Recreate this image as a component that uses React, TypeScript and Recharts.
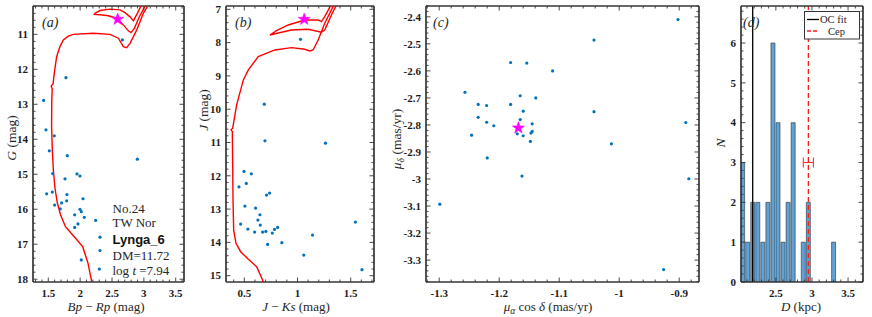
import React from 'react'
import { ComposedChart, Scatter, Bar, XAxis, YAxis, ReferenceLine, ErrorBar } from 'recharts'

const FONT = '"Liberation Serif", "Times New Roman", serif'
const AXIS = '#363636'
const BLUE = '#0072bd'
const H = 317

// --- (a) Gaia CMD: [Bp-Rp, G] ---
const gaiaMembers: [number, number][] = [
  [2.662, 11.16], [1.777, 12.24], [1.427, 12.89], [1.463, 13.73], [1.594, 13.9],
  [1.516, 14.33], [1.798, 14.47], [2.898, 14.57], [1.568, 14.98], [1.95, 14.99],
  [1.997, 15.05], [1.762, 15.13], [1.474, 15.56], [1.563, 15.51], [1.793, 15.58],
  [2.045, 15.7], [1.788, 15.76], [1.599, 15.88], [1.709, 15.82], [1.688, 15.99],
  [1.997, 16.0], [2.018, 16.07], [1.914, 16.16], [2.065, 16.23], [2.243, 16.32],
  [1.966, 16.42], [1.914, 16.52], [2.311, 16.8], [2.311, 17.18], [2.018, 17.45],
  [2.301, 17.71],
]
const gaiaCepheid: [number, number][] = [[2.589, 10.57]]
const gaiaIsochrone: [number, number][] = [
  [2.207, 18.3], [2.181, 18.07], [2.123, 17.54], [2.04, 17.07], [1.9, 16.77],
  [1.77, 16.5], [1.69, 16.15], [1.64, 15.8], [1.605, 15.4], [1.58, 14.9],
  [1.563, 14.3], [1.552, 13.64], [1.555, 12.88], [1.562, 12.56], [1.545, 12.48],
  [1.575, 12.42], [1.594, 12.11], [1.631, 11.64], [1.683, 11.35], [1.736, 11.16],
  [1.814, 11.05], [1.893, 11.0], [2.207, 10.97], [2.469, 11.0], [2.6, 11.11],
  [2.678, 11.35], [2.73, 11.38], [2.783, 11.26], [2.887, 10.88], [2.992, 10.4],
  [3.071, 10.16], [3.149, 9.92],
  [2.982, 9.97], [2.955, 10.19], [2.898, 10.4], [2.835, 10.61], [2.783, 10.5],
  [2.704, 10.38], [2.626, 10.3], [2.469, 10.28], [2.312, 10.32], [2.233, 10.4],
  [2.223, 10.43], [2.312, 10.44], [2.442, 10.47], [2.573, 10.54], [2.678, 10.73],
  [2.757, 10.9], [2.798, 10.95], [2.851, 10.83], [2.929, 10.5], [3.018, 10.19],
  [3.071, 9.97],
]

// --- (b) 2MASS CMD: [J-Ks, J] ---
const tmassMembers: [number, number][] = [
  [1.028, 7.9], [0.688, 9.85], [0.694, 10.95], [1.263, 11.02], [0.497, 11.87],
  [0.566, 11.94], [0.519, 12.23], [0.45, 12.33], [0.709, 12.58], [0.738, 12.52],
  [0.506, 12.91], [0.606, 12.97], [0.647, 13.17], [0.628, 13.33], [0.65, 13.48],
  [0.466, 13.45], [0.534, 13.6], [0.597, 13.69], [0.672, 13.69], [0.703, 13.67],
  [0.763, 13.72], [0.784, 13.61], [0.813, 13.55], [1.544, 13.39], [0.719, 14.06],
  [0.853, 14.01], [1.141, 13.78], [1.059, 14.38], [1.606, 14.82],
]
const tmassCepheid: [number, number][] = [[1.063, 7.3]]
const tmassIsochrone: [number, number][] = [
  [0.694, 15.43], [0.672, 15.13], [0.616, 14.73], [0.538, 14.51], [0.466, 14.28],
  [0.422, 14.03], [0.4, 13.63], [0.394, 12.73], [0.391, 11.72], [0.388, 10.92],
  [0.388, 10.67], [0.375, 10.62], [0.391, 10.57], [0.428, 9.87], [0.491, 9.12],
  [0.538, 8.82], [0.631, 8.42], [0.788, 8.22], [0.944, 8.15], [1.069, 8.2],
  [1.116, 8.25], [1.147, 8.22], [1.194, 7.92], [1.256, 7.42], [1.334, 6.92],
  [1.366, 6.72],
  [1.313, 6.72], [1.303, 6.94], [1.256, 7.22], [1.225, 7.37], [1.194, 7.32],
  [1.069, 7.32], [0.913, 7.47], [0.803, 7.64], [0.741, 7.77], [0.809, 7.72],
  [0.944, 7.62], [1.1, 7.6], [1.225, 7.69], [1.256, 7.62], [1.319, 7.17],
  [1.366, 6.87], [1.381, 6.72],
]

// --- (c) proper motions: [pmRA cos dec, pmDec] ---
const pmMembers: [number, number][] = [
  [-0.902, -2.41], [-1.042, -2.486], [-1.181, -2.569], [-1.154, -2.571], [-1.111, -2.6],
  [-1.257, -2.679], [-1.165, -2.692], [-1.139, -2.7], [-1.235, -2.724], [-1.221, -2.728],
  [-1.181, -2.724], [-1.16, -2.749], [-1.042, -2.751], [-1.235, -2.772], [-1.165, -2.78],
  [-1.221, -2.79], [-1.145, -2.796], [-0.889, -2.791], [-1.209, -2.803], [-1.246, -2.838],
  [-1.145, -2.824], [-1.147, -2.83], [-1.17, -2.833], [-1.16, -2.84], [-1.148, -2.861],
  [-1.013, -2.87], [-1.22, -2.922], [-1.162, -2.989], [-0.884, -2.999], [-1.299, -3.093],
  [-0.926, -3.335],
]
const pmCepheid: [number, number][] = [[-1.168, -2.811]]

// --- (d) distance histogram ---
const distBinCenters = [2.04, 2.11, 2.18, 2.25, 2.32, 2.39, 2.46, 2.53, 2.6, 2.67, 2.74, 2.81, 2.88, 2.95, 3.02, 3.09, 3.16, 3.23, 3.3]
const distCounts = [3, 1, 2, 2, 1, 2, 6, 4, 1, 2, 4, 0, 1, 2, 0, 0, 0, 0, 1]
const ocFitDist = 2.179
const cepDist = 2.95
const cepDistErr = 0.07
const cepMarkerN = 3

const pts = (a: [number, number][]) => a.map(([x, y]) => ({ x, y }))
const histData = distBinCenters.map((x, i) => ({ x, n: distCounts[i] }))
const cepErrData = [{ x: cepDist, y: cepMarkerN, e: cepDistErr }]

function tickGrid([lo, hi]: [number, number], step: number) {
  const out: number[] = []
  const k0 = Math.ceil(lo / step - 1e-9)
  const k1 = Math.floor(hi / step + 1e-9)
  for (let k = k0; k <= k1; k++) out.push(+(k * step).toFixed(4))
  return out
}

type Side = 'bottom' | 'top' | 'left' | 'right'

function tickFactory(side: Side, majors: number[]) {
  return (props: any) => {
    const { x, y, payload } = props
    const v = Number(payload.value)
    const major = majors.some((m) => Math.abs(m - v) < 1e-6)
    const len = major ? 4.5 : 2.5
    const d = { bottom: [0, -len], top: [0, len], left: [len, 0], right: [-len, 0] }[side]
    return (
      <g>
        <line x1={x} y1={y} x2={x + d[0]} y2={y + d[1]} stroke={AXIS} strokeWidth={0.9} />
        {major && side === 'bottom' && (
          <text x={x} y={y + 14.5} textAnchor="middle" fontFamily={FONT} fontWeight="bold" fontSize={11} fill="#1a1a1a">
            {String(v)}
          </text>
        )}
        {major && side === 'left' && (
          <text x={x - 5} y={y + 3.8} textAnchor="end" fontFamily={FONT} fontWeight="bold" fontSize={11} fill="#1a1a1a">
            {String(v)}
          </text>
        )}
      </g>
    )
  }
}

type PanelProps = {
  left: number
  width: number
  axisLeft: number
  axisRight: number
  xDomain: [number, number]
  yDomain: [number, number]
  reversed?: boolean
  xMajor: number[]
  xStep: number
  yMajor: number[]
  yStep: number
  data?: any[]
  children: React.ReactNode
}

function Panel(p: PanelProps) {
  const xTicks = tickGrid(p.xDomain, p.xStep)
  const yTicks = tickGrid(p.yDomain, p.yStep)
  const frame = { stroke: AXIS, strokeWidth: 1.7 }
  return (
    <div style={{ position: 'absolute', left: p.left, top: 0 }}>
      <ComposedChart width={p.width} height={H} data={p.data} margin={{ top: 0, right: 0, bottom: 0, left: 0 }}>
        <XAxis type="number" dataKey="x" domain={p.xDomain} allowDataOverflow ticks={xTicks} interval={0}
          height={35} tickSize={0} tickMargin={0} tickLine={false} axisLine={frame} tick={tickFactory('bottom', p.xMajor)} />
        <XAxis xAxisId="top" orientation="top" type="number" dataKey="x" domain={p.xDomain} allowDataOverflow ticks={xTicks} interval={0}
          height={6} tickSize={0} tickMargin={0} tickLine={false} axisLine={frame} tick={tickFactory('top', p.xMajor)} />
        <YAxis type="number" dataKey="y" domain={p.yDomain} reversed={p.reversed} allowDataOverflow ticks={yTicks} interval={0}
          width={p.axisLeft} tickSize={0} tickMargin={0} tickLine={false} axisLine={frame} tick={tickFactory('left', p.yMajor)} />
        <YAxis yAxisId="right" orientation="right" type="number" dataKey="y" domain={p.yDomain} reversed={p.reversed} allowDataOverflow ticks={yTicks} interval={0}
          width={p.axisRight} tickSize={0} tickMargin={0} tickLine={false} axisLine={frame} tick={tickFactory('right', p.yMajor)} />
        {p.children}
      </ComposedChart>
    </div>
  )
}

function starPoints(cx: number, cy: number, R: number, r: number) {
  const out: string[] = []
  for (let i = 0; i < 10; i++) {
    const rad = i % 2 === 0 ? R : r
    const a = -Math.PI / 2 + (i * Math.PI) / 5
    out.push(`${cx + rad * Math.cos(a)},${cy + rad * Math.sin(a)}`)
  }
  return out.join(' ')
}

const StarShape = (s: any) => <polygon points={starPoints(s.cx, s.cy, 6.3, 2.5)} fill="#ff00ff" stroke="#ff00ff" strokeWidth={0.6} />
const DotShape = (s: any) => <circle cx={s.cx} cy={s.cy} r={1.6} fill={BLUE} />
const NoShape = () => <g />
const isoLine = { stroke: '#ff0000', strokeWidth: 1.4, fill: 'none' }

const txt = { fontFamily: FONT, fill: '#262626' }

export default function App() {
  return (
    <div style={{ position: 'absolute', left: 0, top: 0, width: 872, height: H, background: '#fff', overflow: 'hidden' }}>
      <Panel left={0} width={192} axisLeft={33} axisRight={8} xDomain={[1.26, 3.63]} yDomain={[10.19, 18.08]} reversed
        xMajor={[1.5, 2, 2.5, 3, 3.5]} xStep={0.1} yMajor={[11, 12, 13, 14, 15, 16, 17, 18]} yStep={0.2}>
        <Scatter data={pts(gaiaIsochrone)} line={isoLine} lineType="joint" shape={NoShape} isAnimationActive={false} />
        <Scatter data={pts(gaiaMembers)} shape={DotShape} isAnimationActive={false} />
        <Scatter data={pts(gaiaCepheid)} shape={StarShape} isAnimationActive={false} />
      </Panel>

      <Panel left={192} width={196} axisLeft={34} axisRight={14} xDomain={[0.328, 1.719]} yDomain={[6.9, 15.19]} reversed
        xMajor={[0.5, 1, 1.5]} xStep={0.1} yMajor={[7, 8, 9, 10, 11, 12, 13, 14, 15]} yStep={0.2}>
        <Scatter data={pts(tmassIsochrone)} line={isoLine} lineType="joint" shape={NoShape} isAnimationActive={false} />
        <Scatter data={pts(tmassMembers)} shape={DotShape} isAnimationActive={false} />
        <Scatter data={pts(tmassCepheid)} shape={StarShape} isAnimationActive={false} />
      </Panel>

      <Panel left={388} width={320} axisLeft={38} axisRight={9} xDomain={[-1.322, -0.867]} yDomain={[-3.381, -2.36]}
        xMajor={[-1.3, -1.2, -1.1, -1, -0.9]} xStep={0.02} yMajor={[-2.4, -2.5, -2.6, -2.7, -2.8, -2.9, -3, -3.1, -3.2, -3.3]} yStep={0.02}>
        <Scatter data={pts(pmMembers)} shape={DotShape} isAnimationActive={false} />
        <Scatter data={pts(pmCepheid)} shape={StarShape} isAnimationActive={false} />
      </Panel>

      <Panel left={708} width={164} axisLeft={33} axisRight={9} xDomain={[2.017, 3.707]} yDomain={[0, 6.93]}
        xMajor={[2.5, 3, 3.5]} xStep={0.1} yMajor={[0, 1, 2, 3, 4, 5, 6]} yStep={0.2} data={histData}>
        <Bar dataKey="n" fill="#5ea3d8" stroke="#2b2b2b" strokeWidth={0.6} barCategoryGap={0} isAnimationActive={false} />
        <ReferenceLine x={ocFitDist} stroke="#000" strokeWidth={1.3} />
        <ReferenceLine x={cepDist} stroke="#ff1a1a" strokeWidth={1.3} strokeDasharray="5 3" />
        <Scatter data={cepErrData} xAxisId="top" yAxisId="right" shape={NoShape} isAnimationActive={false}>
          <ErrorBar dataKey="e" direction="x" width={5} stroke="#ff3030" strokeWidth={1.1} isAnimationActive={false} />
        </Scatter>
      </Panel>

      <svg width={872} height={H} style={{ position: 'absolute', left: 0, top: 0, pointerEvents: 'none' }}>
        {/* panel letters */}
        <text x={42} y={26.5} fontSize={14} fontStyle="italic" {...txt}>(a)</text>
        <text x={235} y={26.5} fontSize={14} fontStyle="italic" {...txt}>(b)</text>
        <text x={433} y={26.5} fontSize={14} fontStyle="italic" {...txt}>(c)</text>
        <text x={743} y={26.5} fontSize={14} fontStyle="italic" {...txt}>(d)</text>

        {/* axis titles */}
        <text x={106} y={311} textAnchor="middle" fontSize={13} {...txt}>
          <tspan fontStyle="italic">Bp</tspan> − <tspan fontStyle="italic">Rp</tspan> (mag)
        </text>
        <text transform="translate(15.5,138) rotate(-90)" textAnchor="middle" fontSize={13.5} {...txt}>
          <tspan fontStyle="italic">G</tspan> (mag)
        </text>
        <text x={296} y={311} textAnchor="middle" fontSize={13} {...txt}>
          <tspan fontStyle="italic">J</tspan> − <tspan fontStyle="italic">Ks</tspan> (mag)
        </text>
        <text transform="translate(207.5,110) rotate(-90)" textAnchor="middle" fontSize={13.5} {...txt}>
          <tspan fontStyle="italic">J</tspan> (mag)
        </text>
        <text x={548} y={311} textAnchor="middle" fontSize={13} {...txt}>
          <tspan fontStyle="italic">μ</tspan><tspan fontSize={9.5} dy={3} fontStyle="italic">α</tspan>
          <tspan dy={-3}> cos </tspan><tspan fontStyle="italic">δ</tspan> (mas/yr)
        </text>
        <text transform="translate(401,139) rotate(-90)" textAnchor="middle" fontSize={13.5} {...txt}>
          <tspan fontStyle="italic">μ</tspan><tspan fontSize={9.5} dy={3} fontStyle="italic">δ</tspan>
          <tspan dy={-3}> (mas/yr)</tspan>
        </text>
        <text x={801} y={311} textAnchor="middle" fontSize={13} {...txt}>
          <tspan fontStyle="italic">D</tspan> (kpc)
        </text>
        <text transform="translate(725,143) rotate(-90)" textAnchor="middle" fontSize={13.5} fontStyle="italic" {...txt}>N</text>

        {/* panel (a) annotation */}
        <text x={112.5} y={212.5} fontSize={13} {...txt}>No.24</text>
        <text x={112.5} y={227} fontSize={13} {...txt}>TW Nor</text>
        <text x={112.5} y={244} fontSize={13} fontWeight="bold" fontFamily='"Liberation Sans", Arial, sans-serif' fill="#111">Lynga_6</text>
        <text x={112.5} y={260} fontSize={13} {...txt}>DM=11.72</text>
        <text x={112.5} y={274.5} fontSize={13} {...txt}>
          log <tspan fontStyle="italic">t</tspan> =7.94
        </text>

        {/* panel (d) legend */}
        <rect x={804.5} y={11.5} width={55} height={27.5} fill="#fff" stroke={AXIS} strokeWidth={1} />
        <line x1={807} y1={19.5} x2={819} y2={19.5} stroke="#000" strokeWidth={1.3} />
        <text x={820} y={23} fontSize={10.5} {...txt}>OC fit</text>
        <line x1={807} y1={31} x2={819} y2={31} stroke="#ff1a1a" strokeWidth={1.3} strokeDasharray="4 2" />
        <text x={828} y={34.5} fontSize={10.5} {...txt}>Cep</text>
      </svg>
    </div>
  )
}
